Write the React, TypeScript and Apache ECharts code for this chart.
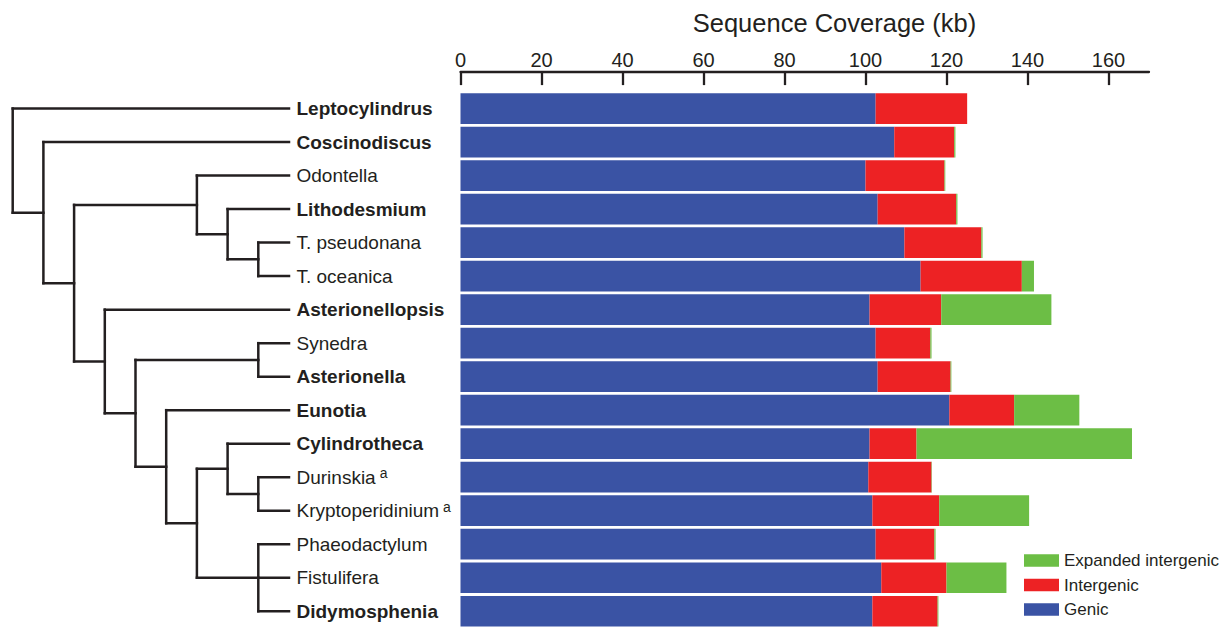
import React, { useEffect, useRef } from "react";
import * as echarts from "echarts";

const categories = [
  "Leptocylindrus",
  "Coscinodiscus",
  "Odontella",
  "Lithodesmium",
  "T. pseudonana",
  "T. oceanica",
  "Asterionellopsis",
  "Synedra",
  "Asterionella",
  "Eunotia",
  "Cylindrotheca",
  "Durinskia",
  "Kryptoperidinium",
  "Phaeodactylum",
  "Fistulifera",
  "Didymosphenia",
];
const boldNames = [
  "Leptocylindrus",
  "Coscinodiscus",
  "Lithodesmium",
  "Asterionellopsis",
  "Asterionella",
  "Eunotia",
  "Cylindrotheca",
  "Didymosphenia",
];
const superscriptNames = ["Durinskia", "Kryptoperidinium"];

const genic = [102.5, 107.1, 100.0, 103.0, 109.6, 113.6, 101.0, 102.5, 103.0, 120.7, 101.0, 100.7, 101.7, 102.5, 103.9, 101.7];
const intergenic = [22.6, 14.8, 19.5, 19.4, 19.0, 25.0, 17.7, 13.5, 18.0, 16.0, 11.6, 15.6, 16.5, 14.5, 16.1, 16.1];
const expandedIntergenic = [0, 0.3, 0.2, 0.3, 0.3, 3.0, 27.2, 0.3, 0.2, 16.1, 53.2, 0.1, 22.2, 0.3, 14.8, 0.2];

const xTicks = [0, 20, 40, 60, 80, 100, 120, 140, 160];

// cladogram topology (nested lists of leaf names)
const tree: any = [
  "Leptocylindrus",
  [
    "Coscinodiscus",
    [
      ["Odontella", ["Lithodesmium", ["T. pseudonana", "T. oceanica"]]],
      [
        "Asterionellopsis",
        [
          ["Synedra", "Asterionella"],
          [
            "Eunotia",
            [
              ["Cylindrotheca", ["Durinskia", "Kryptoperidinium"]],
              ["Phaeodactylum", "Fistulifera", "Didymosphenia"],
            ],
          ],
        ],
      ],
    ],
  ],
];

const FONT = '"Liberation Sans", Arial, Helvetica, sans-serif';
const INK = "#231f20";
const BLUE = "#3a53a4";
const RED = "#ed2224";
const GREEN = "#6cbe45";

export default function App() {
  const ref = useRef<HTMLDivElement>(null);
  useEffect(() => {
    const chart = echarts.init(ref.current as HTMLDivElement, null, { renderer: "svg" });
    const option: any = {
      animation: false,
      backgroundColor: "#ffffff",
      grid: { left: 460.5, top: 91.8, width: 688.5, height: 540.5, containLabel: false },
      xAxis: {
        type: "value",
        position: "top",
        min: 0,
        max: 170,
        offset: 20,
        axisLine: { show: true, lineStyle: { color: INK, width: 2.3 } },
        axisTick: {
          show: true,
          inside: true,
          length: 13.3,
          customValues: xTicks,
          lineStyle: { color: INK, width: 2.3 },
        },
        axisLabel: {
          customValues: xTicks,
          fontSize: 20,
          fontFamily: FONT,
          color: INK,
          margin: 2,
        },
        splitLine: { show: false },
      },
      yAxis: {
        type: "category",
        inverse: true,
        data: categories,
        axisLine: { show: false },
        axisTick: { show: false },
        axisLabel: {
          align: "left",
          margin: 164,
          formatter: (v: string) => {
            if (boldNames.includes(v)) return `{b|${v}}`;
            if (superscriptNames.includes(v)) return `{n|${v}}{s|a}`;
            return `{n|${v}}`;
          },
          rich: {
            n: { fontSize: 19, fontFamily: FONT, color: INK, lineHeight: 22 },
            b: { fontSize: 19, fontFamily: FONT, color: INK, fontWeight: "bold", lineHeight: 22 },
            s: { fontSize: 14, fontFamily: FONT, color: INK, verticalAlign: "top", lineHeight: 20, padding: [0, 0, 0, 4] },
          },
        },
      },
      legend: {
        orient: "vertical",
        left: 1024,
        top: 552,
        padding: 0,
        itemWidth: 35,
        itemHeight: 12.7,
        itemGap: 7.5,
        itemTextGap: 5,
        icon: "rect",
        textStyle: { fontSize: 17, fontFamily: FONT, color: INK },
        data: ["Expanded intergenic", "Intergenic", "Genic"],
      },
      series: [
        { name: "Genic", type: "bar", stack: "total", data: genic, barWidth: 30.7, itemStyle: { color: BLUE } },
        { name: "Intergenic", type: "bar", stack: "total", data: intergenic, barWidth: 30.7, itemStyle: { color: RED } },
        { name: "Expanded intergenic", type: "bar", stack: "total", data: expandedIntergenic, barWidth: 30.7, itemStyle: { color: GREEN } },
      ],
    };
    chart.setOption(option);

    const tipX = 289;
    const step = 30.7;
    const elements: any[] = [];
    const lineStyle = { stroke: INK, lineWidth: 2.5, lineCap: "square" };
    const layout = (node: any): { x: number; y: number; h: number } => {
      if (typeof node === "string") {
        const y = chart.convertToPixel({ yAxisIndex: 0 }, node) as unknown as number;
        return { x: tipX, y, h: 0 };
      }
      const kids = node.map(layout);
      const h = Math.max(...kids.map((k: any) => k.h)) + 1;
      const x = tipX - h * step;
      const y1 = kids[0].y;
      const y2 = kids[kids.length - 1].y;
      elements.push({ type: "line", silent: true, shape: { x1: x, y1, x2: x, y2 }, style: lineStyle });
      kids.forEach((k: any) => {
        elements.push({ type: "line", silent: true, shape: { x1: x, y1: k.y, x2: k.x, y2: k.y }, style: lineStyle });
      });
      return { x, y: (y1 + y2) / 2, h };
    };
    layout(tree);

    elements.push({
      type: "text",
      x: 834.5,
      y: 22.5,
      silent: true,
      style: {
        text: "Sequence Coverage (kb)",
        font: `25.5px ${FONT}`,
        fill: INK,
        align: "center",
        verticalAlign: "middle",
        textAlign: "center",
        textVerticalAlign: "middle",
      },
    });
    chart.setOption({ graphic: elements });

    return () => chart.dispose();
  }, []);
  return <div ref={ref} style={{ position: "absolute", left: 0, top: 0, width: 1225, height: 628 }} />;
}
